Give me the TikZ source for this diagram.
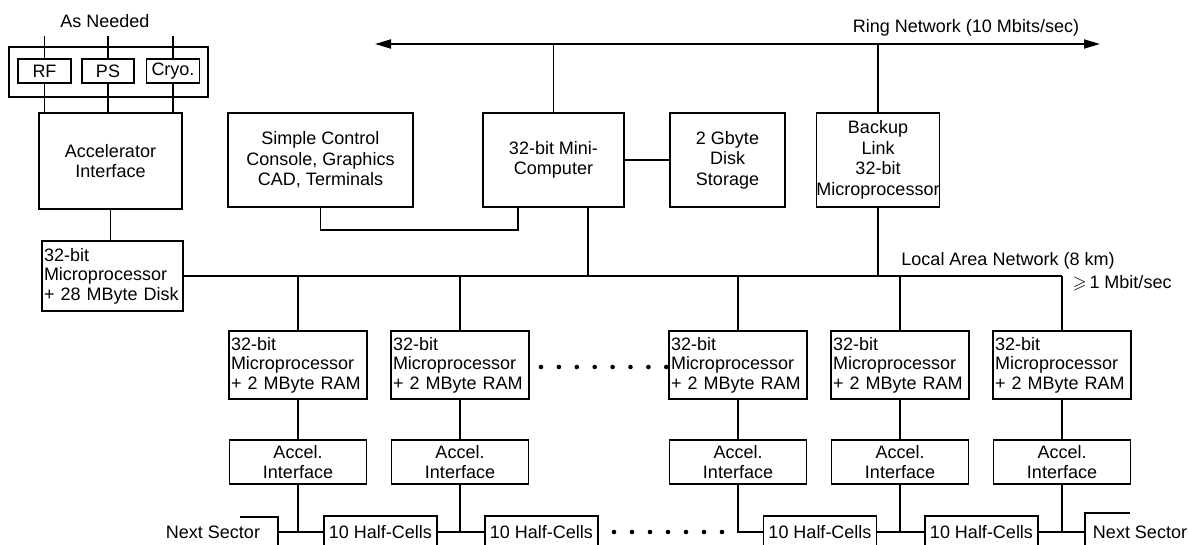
\documentclass[tikz,border=0pt]{standalone}
\usepackage{fontspec}
\usepackage{amssymb}
\setmainfont{Liberation Sans}
\usetikzlibrary{arrows.meta,calc}
\begin{document}
\begin{tikzpicture}[x=1pt,y=-1pt, line width=1.8pt,
  box/.style={draw, line width=1.8pt, inner sep=0.5pt, align=center, font=\fontsize{18}{20.5}\selectfont},
  lbox/.style={draw, line width=1.8pt, inner xsep=2pt, inner ysep=0pt, align=left, font=\fontsize{18}{19.5}\selectfont},
  lbl/.style={inner sep=0pt, font=\fontsize{18}{20}\selectfont}]
\useasboundingbox (0,0) rectangle (1188,545);
\clip (0,0) rectangle (1188,545);

% ---------- upper left: accelerator side ----------
\node[lbl] (asneeded) at (105,21) {As Needed};
\node[draw, minimum width=199pt, minimum height=50pt, inner sep=0pt] (grp) at (108.5,72) {};
\node[box, minimum width=53pt, minimum height=24pt] (rf) at (44.5,71) {RF};
\node[box, minimum width=52pt, minimum height=24pt] (ps) at (108,71) {PS};
\node[box, minimum width=53pt, minimum height=24pt] (cryo) at (173,71) {Cryo.};
\coordinate (inrf) at (44.5,36);
\coordinate (inps) at (108,36);
\coordinate (incryo) at (173,36);
\draw (inrf) -- (rf.north);
\draw (inps) -- (ps.north);
\draw (incryo) -- (cryo.north);

\node[box, minimum width=143pt, minimum height=96pt] (acc) at (110.5,161) {Accelerator\\Interface};
\draw (rf.south) -- (rf.south |- acc.north);
\draw (ps.south) -- (ps.south |- acc.north);
\draw (cryo.south) -- (cryo.south |- acc.north);

\node[lbox, text width=137pt, minimum height=70pt] (mp28) at (112.5,276) {32-bit\\Microprocessor\\+ 28 MByte Disk};
\draw (acc.south) -- (acc.south |- mp28.north);

% ---------- upper row ----------
\node[box, minimum width=185pt, minimum height=94pt] (console) at (320.5,160) {Simple Control\\Console, Graphics\\CAD, Terminals};
\node[box, minimum width=141pt, minimum height=94pt] (mini) at (553.5,160) {32-bit Mini-\\Computer};
\node[box, minimum width=115pt, minimum height=94pt] (disk) at (727.5,160) {2 Gbyte\\Disk\\Storage};
\node[box, minimum width=118pt, minimum height=94pt, inner sep=0pt] (backup) at (878,160) {Backup\\Link\\32-bit\\Microprocessor};

% ring network
\coordinate (ringL) at (375,44);
\coordinate (ringR) at (1100,44);
\draw[{Triangle[length=16pt,width=9pt]}-{Triangle[length=16pt,width=9pt]}] (ringL) -- (ringR);
\node[lbl] (ringlbl) at (966,28) {Ring Network (10 Mbits/sec)};
\draw (mini.north) -- (mini.north |- ringL);
\draw (backup.north) -- (backup.north |- ringL);

\draw (mini.east) -- (disk.west);
\draw (console.south) -- ++(0,22) -| ($(mini.south)+(-35.5,0)$);

% local area network
\coordinate (lanR) at (1062,276);
\node[lbl] (lanlbl) at (1008,261) {Local Area Network (8 km)};
\node[lbl] (rate) at (1122,283) {$\geqslant$\,1 Mbit/sec};
\draw (mp28.east) -- (lanR);
\draw ($(mini.south)+(34.5,0)$) -- ++(0,69);
\draw (backup.south) -- (backup.south |- lanR);

% ---------- sector columns ----------
\foreach \i/\x in {1/298,2/460,3/738,4/900,5/1062}{
  \node[lbox, text width=134pt, minimum height=68pt] (m\i) at (\x,365) {32-bit\\Microprocessor\\+ 2 MByte RAM};
  \node[box, minimum width=137pt, minimum height=44pt] (a\i) at (\x,462) {Accel.\\Interface};
  \draw (m\i.north |- lanR) -- (m\i.north);
  \draw (m\i.south) -- (a\i.north);
}

\node[box, minimum width=113pt, minimum height=32pt] (h1) at (380.5,532) {10 Half-Cells};
\node[box, minimum width=113pt, minimum height=32pt] (h2) at (541.5,532) {10 Half-Cells};
\node[box, minimum width=113pt, minimum height=32pt] (h3) at (820,532) {10 Half-Cells};
\node[box, minimum width=113pt, minimum height=32pt] (h4) at (981.5,532) {10 Half-Cells};

\draw (a1.south) -- ++(0,48);
\draw (a2.south) -- ++(0,48);
\draw (a3.south) |- (h3.west);
\draw (a4.south) -- ++(0,48);
\draw (a5.south) -- ++(0,48);

% next sector (left)
\node[lbl] (nsL) at (213,532) {Next Sector};
\coordinate (nsLe) at (278,532);
\draw (240,517) -- (278,517) -- (278,548);
\draw (nsLe) -- (h1.west);
\draw (h1.east) -- (h2.west);
\draw (h3.east) -- (h4.west);
% next sector (right)
\node[lbl] (nsR) at (1140,532) {Next Sector};
\coordinate (nsRe) at (1085,532);
\draw (1130,513) -- (1085,513) -- (1085,548);
\draw (h4.east) -- (nsRe);

% dots
\foreach \k in {0,...,7} \fill (541+17.9*\k,367) circle (2.3pt);
\foreach \k in {0,...,6} \fill (614+18*\k,532) circle (2.3pt);
\end{tikzpicture}
\end{document}
